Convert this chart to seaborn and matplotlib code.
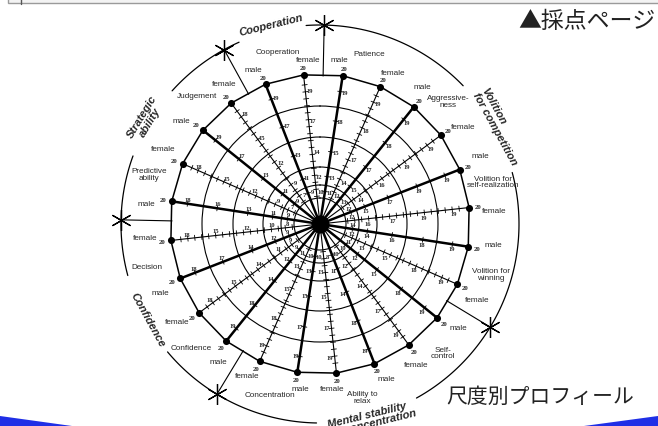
import numpy as np
import pandas as pd
import seaborn as sns
import matplotlib.pyplot as plt

# scales clockwise from the top, every scale has a male and a female spoke
scales = ["Patience", "Aggressive-\nness", "Volition for\nself-realization",
          "Volition for\nwinning", "Self-\ncontrol", "Ability to\nrelax",
          "Concentration", "Confidence", "Decision", "Predictive\nability",
          "Judgement", "Cooperation"]
sexes = ["male", "female"]
groups = ["Volition\nfor competition", "Mental stability\nand concentration",
          "Confidence", "Strategic\nability", "Cooperation"]
group_sizes = [4, 3, 2, 2, 1]
top_score = 20

# raw scores printed along each spoke (outer ring -> centre)
male_scores = [[19, 18, 15, 13, 11], [19, 18, 17, 15, 13], [19, 19, 17, 15, 12],
               [19, 18, 16, 14, 12], [19, 18, 15, 12, 10], [19, 18, 14, 11, 8],
               [19, 17, 15, 13, 10], [19, 18, 14, 12, 9], [18, 17, 14, 12, 9],
               [18, 16, 13, 11, 9], [19, 17, 13, 11, 9], [19, 17, 13, 11, 9]]
female_scores = [[19, 18, 17, 14, 12], [19, 19, 16, 14, 12], [19, 19, 17, 16, 14],
                 [19, 18, 15, 13, 11], [19, 17, 14, 12, 10], [19, 17, 15, 13, 10],
                 [19, 18, 15, 13, 11], [18, 15, 14, 11, 9], [18, 15, 12, 10, 8],
                 [18, 15, 12, 9, 7], [18, 15, 12, 9, 7], [19, 17, 14, 12, 10]]

sns.set_style("white")
plt.rcParams['font.family'] = ['Liberation Sans Narrow', 'Liberation Sans', 'DejaVu Sans']
JP = ['Noto Sans CJK JP', 'DejaVu Sans']

W, H = 658, 427
CX, CY = 320, 225          # centre of the diagram in pixels
R_AX = 214
START, STEP = 8.7, 15.0    # first spoke angle, spacing
ring_r = [26, 39, 57, 87, 118]
OUTER_R = 150
FRAME_R = 199
label_r = [134, 104, 73, 48, 33]
frame_arcs = [(312, 336), (356, 406), (75, 151), (181, 230), (255, 290)]
group_text_r = [204, 201, 197, 203, 206]

n = len(scales) * len(sexes)
spoke_deg = START + STEP * np.arange(n)
theta = np.deg2rad(spoke_deg)
is_male = np.arange(n) % 2 == 0
scores = [row for pair in zip(male_scores, female_scores) for row in pair]

fig = plt.figure(figsize=(W / 100, H / 100), dpi=100)
bg = fig.add_axes([0, 0, 1, 1])
bg.set_xlim(0, W)
bg.set_ylim(H, 0)
bg.axis('off')

# slide decorations
bg.add_patch(plt.Rectangle((8, -6), 660, 10, fc='#f3f3f3', ec='#9a9a9a', lw=1))
bg.plot([21, 21], [0, 5], color='#555555', lw=1)
bg.fill([0, 72, 0], [427, 427, 417], color='#1f2fe6', lw=0)
bg.fill([584, 658, 658], [427, 417, 427], color='#1f2fe6', lw=0)
bg.text(518, 21, "▲採点ページ", fontsize=16.5, va='center', ha='left',
        family=JP, color='#222222')
bg.text(446, 397, "尺度別プロフィール", fontsize=15, va='center', ha='left',
        family=JP, color='#222222')

ax = fig.add_axes([(CX - R_AX) / W, (H - CY - R_AX) / H, 2 * R_AX / W, 2 * R_AX / H],
                  projection='polar')
ax.set_theta_zero_location('N')
ax.set_theta_direction(-1)
ax.patch.set_alpha(0)
ax.spines['polar'].set_visible(False)
ax.set_xticks([])
ax.set_yticks(ring_r)
ax.set_yticklabels([])
ax.yaxis.grid(True, color='k', lw=0.8)

# spokes
for i in range(n):
    ax.plot([theta[i], theta[i]], [0, OUTER_R], color='k',
            lw=1.8 if is_male[i] else 0.8, solid_capstyle='butt')
    rr = np.asarray(label_r if is_male[i] else np.arange(28, 147, 7), float)
    d = 2.6 / rr
    nan = np.full(len(rr), np.nan)
    ax.plot(np.column_stack([theta[i] - d, theta[i] + d, nan]).ravel(),
            np.column_stack([rr, rr, nan]).ravel(), color='k', lw=0.6)
    for r, s in zip(label_r, scores[i]):
        ax.text(theta[i] + 4.5 / r, r, str(s), fontsize=4.8, ha='center', va='center',
                family='Liberation Serif', weight='bold')

# outer polygon of top scores with dots
ax.plot(np.append(theta, theta[0]), [OUTER_R] * (n + 1), color='k', lw=1.1)
dots = pd.DataFrame({'theta': theta, 'r': OUTER_R,
                     'sex': [sexes[0] if m else sexes[1] for m in is_male]})
sns.scatterplot(data=dots, x='theta', y='r', color='k', s=26, linewidth=0,
                ax=ax, legend=False, zorder=5)
ax.plot(0, 0, 'o', ms=12, color='k')

# labels around the polygon
for i in range(n):
    s = abs(np.sin(theta[i]))
    away = np.deg2rad(-2.0 if is_male[i] else 2.0)
    ax.text(theta[i], 157 + 2 * s, str(top_score), fontsize=4.8, ha='center',
            va='center', family='Liberation Serif', weight='bold')
    ax.text(theta[i] + away, 164 + 11 * s, dots['sex'][i], fontsize=5.9,
            ha='center', va='center')
for k, name in enumerate(scales):
    mid = (theta[2 * k] + theta[2 * k + 1]) / 2
    ax.text(mid, 178, name, fontsize=5.9, ha='center', va='center', linespacing=0.95)

# group frame: arcs, stars and group titles
for a0, a1 in frame_arcs:
    t = np.deg2rad(np.linspace(a0, a1, 80))
    ax.plot(t, np.full(len(t), FRAME_R), color='k', lw=0.9)
idx = np.cumsum([0] + [2 * g for g in group_sizes])
bound_deg = START + STEP * idx[:-1] - STEP / 2
for b in bound_deg:
    tb = np.deg2rad(b)
    ax.plot([tb, tb], [OUTER_R - 2, FRAME_R], color='k', lw=0.8)
ax.plot(np.deg2rad(bound_deg), [FRAME_R] * len(bound_deg), ls='none',
        marker=(6, 2, 0), ms=15, mew=0.9, color='k')
for k, g in enumerate(groups):
    a = bound_deg[k] + STEP * group_sizes[k]
    rot = 180 - a if 90 < a < 270 else -a
    ax.text(np.deg2rad(a), group_text_r[k], g, fontsize=8, weight='bold', style='italic',
            rotation=rot, ha='center', va='center', linespacing=0.95,
            multialignment='left' if k == 0 else 'center',
            family=['Liberation Sans', 'DejaVu Sans'])

ax.set_xlabel('')
ax.set_ylabel('')
ax.set_ylim(0, R_AX)

fig.savefig('out.png', dpi=100)
